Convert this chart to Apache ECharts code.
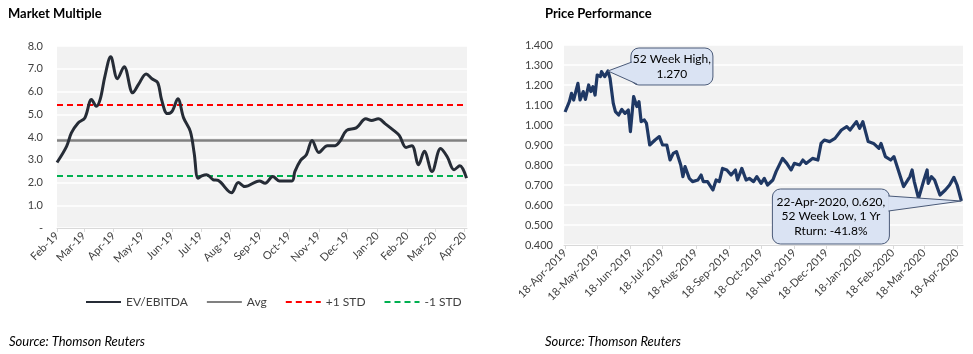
<!DOCTYPE html>
<html>
<head>
<meta charset="utf-8">
<script src="https://cdn.jsdelivr.net/npm/echarts@6/dist/echarts.min.js"></script>
<style>
html,body{margin:0;padding:0;background:#fff;}
#c{width:973px;height:354px;}
</style>
</head>
<body>
<div id="c"></div>
<script>
// ---------- Market Multiple (EV/EBITDA) ----------
const mmDates = ['2019-02-01','2019-02-11','2019-02-16','2019-02-23','2019-03-02','2019-03-09','2019-03-14','2019-03-18','2019-03-23','2019-03-29',
'2019-04-05','2019-04-12','2019-04-21','2019-04-27','2019-05-05','2019-05-11','2019-05-17','2019-05-21','2019-05-27','2019-06-01',
'2019-06-07','2019-06-13','2019-06-20','2019-06-24','2019-06-28','2019-07-02','2019-07-07','2019-07-14','2019-07-19','2019-08-02',
'2019-08-09','2019-08-16','2019-08-31','2019-09-06','2019-09-14','2019-09-21','2019-10-04','2019-10-07','2019-10-13','2019-10-19',
'2019-10-25','2019-11-01','2019-11-10','2019-11-18','2019-11-23','2019-11-30','2019-12-10','2019-12-20','2019-12-26','2020-01-02',
'2020-01-09','2020-01-18','2020-01-24','2020-01-31','2020-02-06','2020-02-13','2020-02-19','2020-02-27','2020-03-07','2020-03-14',
'2020-03-21','2020-03-27','2020-04-03'];
const mmValues = [2.88,3.59,4.18,4.62,4.84,5.65,5.35,5.65,6.68,7.53,
6.56,7.09,5.94,6.31,6.77,6.56,6.39,5.65,5.03,5.13,
5.68,4.84,4.25,3.30,2.19,2.29,2.34,2.12,2.09,1.55,
2.00,1.82,2.07,1.97,2.26,2.07,2.07,2.48,2.97,3.22,
3.85,3.32,3.62,3.62,3.81,4.29,4.40,4.80,4.72,4.80,
4.59,4.29,4.06,3.54,3.62,2.78,3.37,2.48,3.49,3.12,
2.56,2.74,2.19];
const mmAvg = 3.85;
const mmPlusStd = 5.41;
const mmMinusStd = 2.29;
const mmMonthTicks = ['2019-02-01','2019-03-01','2019-04-01','2019-05-01','2019-06-01','2019-07-01','2019-08-01','2019-09-01','2019-10-01','2019-11-01','2019-12-01','2020-01-01','2020-02-01','2020-03-01','2020-04-01'];

// ---------- Price Performance ----------
const ppDates = ['2019-04-18','2019-04-22','2019-04-24','2019-04-26','2019-04-30','2019-05-02','2019-05-05','2019-05-07','2019-05-10','2019-05-12',
'2019-05-14','2019-05-16','2019-05-18','2019-05-21','2019-05-22','2019-05-25','2019-05-28','2019-05-30','2019-06-02','2019-06-04',
'2019-06-07','2019-06-10','2019-06-13','2019-06-16','2019-06-18','2019-06-21','2019-06-24','2019-06-26','2019-06-28','2019-07-01',
'2019-07-03','2019-07-06','2019-07-11','2019-07-15','2019-07-18','2019-07-22','2019-07-25','2019-07-28','2019-07-31','2019-08-04',
'2019-08-06','2019-08-08','2019-08-12','2019-08-15','2019-08-20','2019-08-23','2019-08-25','2019-08-29','2019-09-03','2019-09-06',
'2019-09-09','2019-09-12','2019-09-16','2019-09-20','2019-09-24','2019-09-26','2019-09-30','2019-10-04','2019-10-07','2019-10-11',
'2019-10-14','2019-10-18','2019-10-21','2019-10-24','2019-10-29','2019-11-01','2019-11-07','2019-11-11','2019-11-15','2019-11-18',
'2019-11-23','2019-11-26','2019-11-29','2019-12-05','2019-12-10','2019-12-13','2019-12-16','2019-12-21','2019-12-26','2020-01-01',
'2020-01-06','2020-01-09','2020-01-15','2020-01-18','2020-01-21','2020-01-26','2020-01-31','2020-02-05','2020-02-07','2020-02-11',
'2020-02-16','2020-02-19','2020-02-22','2020-02-28','2020-03-05','2020-03-07','2020-03-09','2020-03-13','2020-03-18','2020-03-21',
'2020-03-22','2020-03-25','2020-03-28','2020-04-02','2020-04-07','2020-04-11','2020-04-15','2020-04-18','2020-04-22'];
const ppValues = [1.065,1.117,1.158,1.125,1.208,1.125,1.167,1.128,1.200,1.167,
1.192,1.150,1.250,1.242,1.267,1.242,1.270,1.233,1.108,1.067,
1.050,1.078,1.058,1.075,0.967,1.142,1.092,1.117,1.017,1.025,
1.008,0.900,0.925,0.942,0.900,0.900,0.825,0.858,0.867,0.800,
0.742,0.792,0.733,0.717,0.725,0.750,0.717,0.717,0.675,0.725,
0.717,0.783,0.775,0.750,0.775,0.725,0.783,0.725,0.733,0.717,
0.742,0.708,0.733,0.700,0.725,0.767,0.833,0.808,0.775,0.808,
0.800,0.825,0.808,0.833,0.825,0.908,0.925,0.917,0.933,0.975,
0.992,0.975,1.017,0.983,1.017,0.917,0.908,0.883,0.908,0.842,
0.825,0.842,0.792,0.692,0.742,0.775,0.717,0.633,0.725,0.775,
0.708,0.742,0.725,0.650,0.675,0.700,0.738,0.700,0.620];
const ppMonthTicks = ['2019-04-18','2019-05-18','2019-06-18','2019-07-18','2019-08-18','2019-09-18','2019-10-18','2019-11-18','2019-12-18','2020-01-18','2020-02-18','2020-03-18','2020-04-18'];
const ppHigh = {date:'2019-05-28', value:1.270, text:'52 Week High,\n1.270'};
const ppLow = {date:'2020-04-22', value:0.620, text:'22-Apr-2020, 0.620,\n52 Week Low, 1 Yr\nRturn: -41.8%'};

const MON = ['Jan','Feb','Mar','Apr','May','Jun','Jul','Aug','Sep','Oct','Nov','Dec'];
const FONT = 'Lato';
const DAY = 86400000;
const ts = s => { const p = s.split('-'); return Date.UTC(+p[0], +p[1]-1, +p[2]); };

const mmMin = ts('2019-02-01'), mmMax = ts('2020-04-03') + DAY/2;
const ppMin = ts('2019-04-17'), ppMax = ts('2020-04-23') + DAY/2;

const chart = echarts.init(document.getElementById('c'), null, {renderer:'canvas'});
const labelColor = '#404040';

chart.setOption({
  animation: false,
  textStyle: {fontFamily: FONT},
  title: [
    {text:'Market Multiple', left:3, top:2, textStyle:{fontSize:13, fontWeight:'bold', color:'#000', fontFamily:FONT}},
    {text:'Price Performance', left:540, top:2, textStyle:{fontSize:13, fontWeight:'bold', color:'#000', fontFamily:FONT}},
    {text:'Source: Thomson Reuters', left:4, top:330, textStyle:{fontSize:13, fontStyle:'italic', fontWeight:'normal', color:'#000', fontFamily:FONT}},
    {text:'Source: Thomson Reuters', left:540, top:330, textStyle:{fontSize:13, fontStyle:'italic', fontWeight:'normal', color:'#000', fontFamily:FONT}}
  ],
  legend: {
    left: 80, top: 291, itemWidth: 35, itemHeight: 10, itemGap: 18,
    itemStyle: {opacity: 0},
    textStyle: {fontSize: 12, color: labelColor, fontFamily: FONT},
    data: ['EV/EBITDA','Avg','+1 STD','-1 STD']
  },
  grid: [
    {left:57, top:46, width:410, height:182, show:true, backgroundColor:'#f2f2f2', borderWidth:0},
    {left:564, top:45, width:399, height:200, show:true, backgroundColor:'#f2f2f2', borderWidth:0}
  ],
  xAxis: [
    {type:'value', gridIndex:0, min:mmMin, max:mmMax,
     axisLine:{show:true, lineStyle:{color:'#d9d9d9', width:1}},
     axisTick:{show:true, length:4, lineStyle:{color:'#d9d9d9'}, customValues: mmMonthTicks.map(ts)},
     axisLabel:{customValues: mmMonthTicks.map(ts), rotate:45, fontSize:11, color:labelColor, margin:6, fontFamily:FONT,
       showMinLabel:true, showMaxLabel:true,
       formatter: v => { const d = new Date(v); return MON[d.getUTCMonth()] + '-' + String(d.getUTCFullYear()).slice(2); }},
     splitLine:{show:false}},
    {type:'value', gridIndex:1, min:ppMin, max:ppMax,
     axisLine:{show:true, lineStyle:{color:'#d9d9d9', width:1}},
     axisTick:{show:true, length:4, lineStyle:{color:'#d9d9d9'}, customValues: ppMonthTicks.map(ts)},
     axisLabel:{customValues: ppMonthTicks.map(ts), rotate:45, fontSize:11, color:labelColor, margin:6, fontFamily:FONT,
       showMinLabel:true, showMaxLabel:true,
       formatter: v => { const d = new Date(v); return d.getUTCDate() + '-' + MON[d.getUTCMonth()] + '-' + d.getUTCFullYear(); }},
     splitLine:{show:false}}
  ],
  yAxis: [
    {type:'value', gridIndex:0, min:0, max:8, interval:1,
     axisLine:{show:false}, axisTick:{show:false},
     axisLabel:{fontSize:11, color:labelColor, margin:14, fontFamily:FONT, formatter: v => v === 0 ? '-' : v.toFixed(1)},
     splitLine:{show:true, lineStyle:{color:'#ffffff', width:1.5}}},
    {type:'value', gridIndex:1, min:0.4, max:1.4, interval:0.1,
     axisLine:{show:false}, axisTick:{show:false},
     axisLabel:{fontSize:11, color:labelColor, margin:11, fontFamily:FONT, formatter: v => v.toFixed(3)},
     splitLine:{show:true, lineStyle:{color:'#ffffff', width:1.5}}}
  ],
  series: [
    {name:'Avg', type:'line', xAxisIndex:0, yAxisIndex:0, symbol:'none', silent:true,
     data:[[mmMin, mmAvg],[mmMax, mmAvg]], lineStyle:{color:'#808080', width:2.5}, itemStyle:{color:'#808080'}},
    {name:'+1 STD', type:'line', xAxisIndex:0, yAxisIndex:0, symbol:'none', silent:true,
     data:[[mmMin, mmPlusStd],[mmMax, mmPlusStd]], lineStyle:{color:'#ff0000', width:2, type:[6,4]}, itemStyle:{color:'#ff0000'}},
    {name:'-1 STD', type:'line', xAxisIndex:0, yAxisIndex:0, symbol:'none', silent:true,
     data:[[mmMin, mmMinusStd],[mmMax, mmMinusStd]], lineStyle:{color:'#00b050', width:2, type:[6,4]}, itemStyle:{color:'#00b050'}},
    {name:'EV/EBITDA', type:'line', xAxisIndex:0, yAxisIndex:0, symbol:'none', smooth:0.35, z:5,
     data: mmDates.map((d,i) => [ts(d), mmValues[i]]), lineStyle:{color:'#262c36', width:3}, itemStyle:{color:'#262c36'}},
    {name:'Price', type:'line', xAxisIndex:1, yAxisIndex:1, symbol:'none', z:5,
     data: ppDates.map((d,i) => [ts(d), ppValues[i]]), lineStyle:{color:'#1f3864', width:3.2, join:'round'}, itemStyle:{color:'#1f3864'}}
  ]
});

// Callouts anchored to data points
function callout(pt, box, wedgeBase, lines) {
  const fill = '#dae3f3', stroke = '#4a5a78';
  const els = [];
  els.push({type:'rect', shape:{x:box.x, y:box.y, width:box.w, height:box.h, r:8},
    style:{fill:fill, stroke:stroke, lineWidth:1}, z:100});
  els.push({type:'polygon', shape:{points:[wedgeBase[0], pt, wedgeBase[1]]},
    style:{fill:fill, stroke:null}, z:101});
  els.push({type:'polyline', shape:{points:[wedgeBase[0], pt, wedgeBase[1]]},
    style:{fill:null, stroke:stroke, lineWidth:1}, z:102});
  els.push({type:'text', x: box.x + box.w/2, y: box.y + box.h/2, z:103,
    style:{text: lines, fill:'#000', fontSize:12, fontFamily:FONT, align:'center', verticalAlign:'middle', lineHeight:14.5}});
  return els;
}
const ph = chart.convertToPixel({gridIndex:1}, [ts(ppHigh.date), ppHigh.value]);
const pl = chart.convertToPixel({gridIndex:1}, [ts(ppLow.date), ppLow.value]);
const hb = {x: ph[0]+23, y: ph[1]-23, w: 82, h: 37};
const lb = {x: pl[0]-189, y: pl[1]-12, w: 117, h: 55};
chart.setOption({
  graphic: [].concat(
    callout(ph, hb, [[hb.x+1, hb.y+14],[hb.x+6, hb.y+hb.h-1]], ppHigh.text),
    callout(pl, lb, [[lb.x+lb.w-1, lb.y+7],[lb.x+lb.w-1, lb.y+22]], ppLow.text)
  )
});
</script>
</body>
</html>
